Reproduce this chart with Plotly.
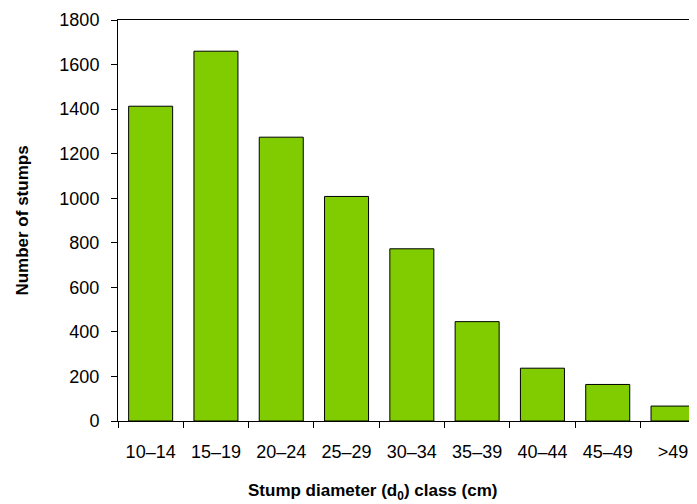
import plotly.graph_objects as go

categories = ["10–14", "15–19", "20–24", "25–29", "30–34", "35–39", "40–44", "45–49", ">49"]
stumps = [1413, 1660, 1274, 1008, 773, 446, 237, 164, 67]
y_ticks = [0, 200, 400, 600, 800, 1000, 1200, 1400, 1600, 1800]

fig = go.Figure()
fig.add_trace(go.Bar(
    x=categories, y=stumps,
    marker=dict(color="#80CC00", line=dict(color="#000000", width=1)),
    width=0.674,
))

font = "Arial, Liberation Sans, sans-serif"
fig.update_layout(
    width=689, height=496,
    margin=dict(l=110, r=0, t=12, b=83),
    paper_bgcolor="white", plot_bgcolor="white",
    showlegend=False,
    font=dict(family=font, size=18, color="#000000"),
)
fig.update_xaxes(
    type="category", range=[-0.5, 8.367],
    showline=True, linecolor="#000000", linewidth=1, mirror=True,
    ticks="outside", ticklen=6, tickcolor="#000000", tickwidth=1,
    tickson="boundaries", ticklabelstandoff=14,
    showgrid=False, zeroline=False,
    tickfont=dict(size=18),
)
fig.update_yaxes(
    range=[0, 1800], tickvals=y_ticks,
    showline=True, linecolor="#000000", linewidth=1,
    ticks="outside", ticklen=6, tickcolor="#000000", tickwidth=1,
    ticklabelstandoff=8,
    showgrid=False, zeroline=False,
    tickfont=dict(size=18),
    title=dict(text="<b>Number of stumps</b>", font=dict(size=17), standoff=26),
)
fig.add_annotation(
    text="<b>Stump diameter (d<sub>0</sub>) class (cm)</b>",
    xref="paper", yref="paper", x=0.4404, y=-0.177,
    xanchor="center", yanchor="middle", showarrow=False,
    font=dict(size=17),
)
fig.write_html("out.html")
